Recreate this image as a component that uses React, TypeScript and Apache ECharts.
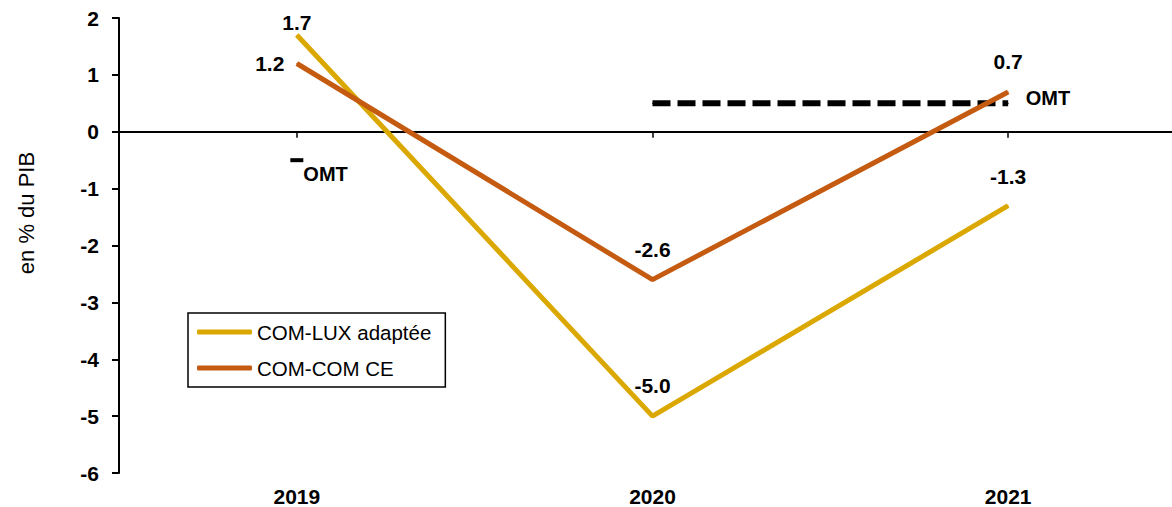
import React, { useEffect, useRef } from "react";
import * as echarts from "echarts";

const categories = ["2019", "2020", "2021"];
const comLux = [1.7, -5.0, -1.3];
const comCom = [1.2, -2.6, 0.7];
const omtLine = [null, 0.5, 0.5];
const omt2019 = [-0.5, null, null];
const yTicks = { min: -6, max: 2, interval: 1 };
const yTitle = "en % du PIB";

const FONT = "'Liberation Sans', Arial, sans-serif";
const YELLOW = "#DAA800";
const ORANGE = "#C55A11";

export default function App() {
  const ref = useRef<HTMLDivElement>(null);
  useEffect(() => {
    if (!ref.current) return;
    const chart = echarts.init(ref.current, undefined, { renderer: "svg" });
    const boldLabel = {
      show: true,
      fontFamily: FONT,
      fontWeight: "bold" as const,
      fontSize: 21,
      color: "#000",
      formatter: (p: any) => Number(p.value).toFixed(1),
    };
    const luxLabels = [
      { position: "top", distance: 2 },
      { position: "top", distance: 20 },
      { position: "top", distance: 18 },
    ];
    const comLabels = [
      { position: "left", distance: 12 },
      { position: "top", distance: 19 },
      { position: "top", distance: 19 },
    ];
    const option: any = {
      animation: false,
      backgroundColor: "#fff",
      textStyle: { fontFamily: FONT },
      grid: { left: 119, width: 1067, top: 18, bottom: 34, outerBoundsMode: "none", containLabel: false },
      graphic: [
        {
          type: "text",
          x: 26,
          y: 213,
          rotation: Math.PI / 2,
          style: {
            text: yTitle,
            fontFamily: FONT,
            fontSize: 22,
            fill: "#000",
            align: "center",
            verticalAlign: "middle",
          },
        },
      ],
      legend: {
        orient: "vertical",
        left: 188,
        top: 313,
        padding: [7, 14, 7, 9],
        itemGap: 12,
        itemWidth: 55,
        itemHeight: 5,
        icon: "roundRect",
        borderColor: "#000",
        borderWidth: 1.5,
        backgroundColor: "#fff",
        data: ["COM-LUX adaptée", "COM-COM CE"],
        textStyle: { fontFamily: FONT, fontSize: 20.5, color: "#000", lineHeight: 24 },
      },
      xAxis: [
        {
          type: "category",
          data: categories,
          position: "bottom",
          axisLine: { show: false, onZero: false },
          axisTick: { show: false },
          axisLabel: { margin: 13, fontFamily: FONT, fontWeight: "bold", fontSize: 21, color: "#000" },
          splitLine: { show: false },
        },
        {
          type: "category",
          data: categories,
          position: "bottom",
          axisLine: { show: true, onZero: true, lineStyle: { color: "#000", width: 2 } },
          axisTick: { show: true, alignWithLabel: true, length: 6, lineStyle: { color: "#000", width: 1.5 } },
          axisLabel: { show: false },
          splitLine: { show: false },
        },
      ],
      yAxis: {
        type: "value",
        min: yTicks.min,
        max: yTicks.max,
        interval: yTicks.interval,
        axisLine: { show: true, onZero: false, lineStyle: { color: "#000", width: 2 } },
        axisTick: { show: true, length: 7, lineStyle: { color: "#000", width: 2 } },
        axisLabel: { margin: 20, fontFamily: FONT, fontWeight: "bold", fontSize: 21, color: "#000" },
        splitLine: { show: false },
      },
      series: [
        {
          name: "OMT",
          type: "line",
          xAxisIndex: 0,
          data: omtLine.map((v, i) => ({
            value: v,
            label:
              i === categories.length - 1
                ? {
                    show: true,
                    position: "right",
                    distance: 17,
                    offset: [0, -5],
                    formatter: "OMT",
                    fontFamily: FONT,
                    fontWeight: "bold",
                    fontSize: 20,
                    color: "#000",
                  }
                : { show: false },
          })),
          symbol: "circle",
          symbolSize: 1,
          itemStyle: { color: "#000" },
          lineStyle: { color: "#000", width: 6, type: [18, 7] },
          z: 1,
        },
        {
          name: "OMT 2019",
          type: "scatter",
          xAxisIndex: 0,
          data: omt2019,
          symbol: "rect",
          symbolSize: [13, 4],
          itemStyle: { color: "#000", opacity: 1 },
          label: {
            show: true,
            position: "right",
            distance: 0,
            offset: [0, 14],
            formatter: "OMT",
            fontFamily: FONT,
            fontWeight: "bold",
            fontSize: 20,
            color: "#000",
          },
        },
        {
          name: "COM-LUX adaptée",
          type: "line",
          xAxisIndex: 0,
          data: comLux.map((v, i) => ({ value: v, label: { ...boldLabel, ...luxLabels[i] } })),
          symbol: "circle",
          symbolSize: 1,
          itemStyle: { color: YELLOW },
          lineStyle: { color: YELLOW, width: 5 },
          z: 3,
        },
        {
          name: "COM-COM CE",
          type: "line",
          xAxisIndex: 0,
          data: comCom.map((v, i) => ({ value: v, label: { ...boldLabel, ...comLabels[i] } })),
          symbol: "circle",
          symbolSize: 1,
          itemStyle: { color: ORANGE },
          lineStyle: { color: ORANGE, width: 5 },
          z: 4,
        },
      ],
    };
    chart.setOption(option);
    return () => chart.dispose();
  }, []);
  return (
    <div
      ref={ref}
      style={{ position: "absolute", left: 0, top: 0, width: 1172, height: 507, background: "#fff" }}
    />
  );
}
